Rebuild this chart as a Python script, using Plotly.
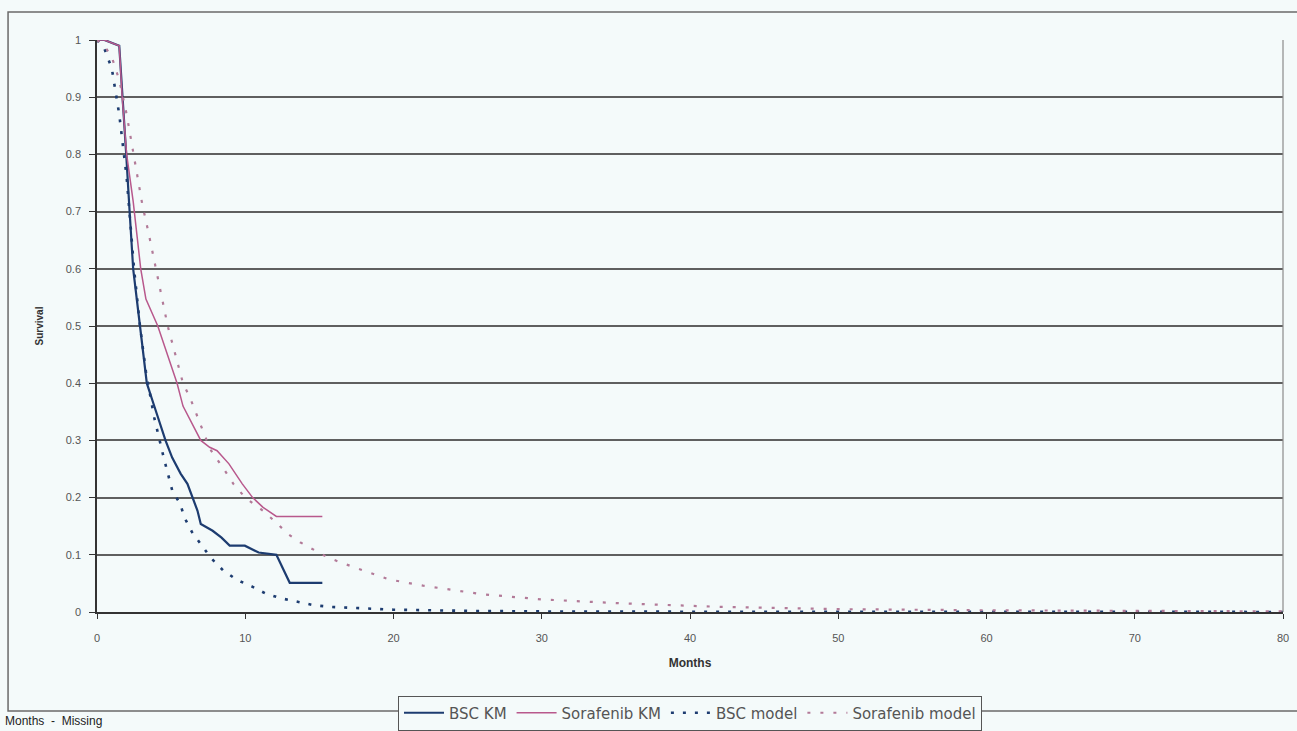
import plotly.graph_objects as go

# Kaplan-Meier survival (months, proportion surviving)
bsc_km_months = [0, 0.5, 1.5, 1.7, 1.97, 2.2, 2.44, 2.9, 3.36, 3.8, 4.16, 4.62, 5.07, 5.64,
                 6.1, 6.44, 6.78, 7.0, 7.8, 8.4, 8.95, 9.97, 10.9, 12.1, 13.0, 15.2]
bsc_km_surv = [1.0, 1.0, 0.99, 0.9, 0.8, 0.7, 0.6, 0.5, 0.4, 0.365, 0.336, 0.3, 0.27, 0.242,
               0.224, 0.2, 0.177, 0.154, 0.142, 0.13, 0.116, 0.116, 0.104, 0.1, 0.051, 0.051]

sor_km_months = [0, 0.5, 1.5, 1.7, 2.0, 2.44, 2.95, 3.3, 4.1, 5.4, 5.8, 6.4, 7.0, 7.6, 8.1,
                 8.9, 9.8, 10.5, 11.2, 12.1, 15.2]
sor_km_surv = [1.0, 1.0, 0.99, 0.9, 0.8, 0.718, 0.6, 0.547, 0.5, 0.4, 0.36, 0.33, 0.3, 0.288,
               0.282, 0.259, 0.224, 0.2, 0.183, 0.167, 0.167]

# Fitted parametric models
bsc_model_months = [0, 0.5, 1, 1.5, 2, 2.5, 2.9, 3.3, 3.86, 4.3, 4.5, 5.1, 5.6, 5.9, 6.4, 7.05,
                    7.7, 8.5, 9.45, 10.5, 11.4, 12.4, 13.6, 14.6, 15.7, 18, 20, 25, 30, 40, 50,
                    60, 70, 80]
bsc_model_surv = [1.0, 0.985, 0.95, 0.87, 0.76, 0.6, 0.5, 0.42, 0.34, 0.29, 0.27, 0.21, 0.19,
                  0.165, 0.14, 0.117, 0.094, 0.073, 0.056, 0.044, 0.032, 0.024, 0.018, 0.012,
                  0.009, 0.006, 0.004, 0.002, 0.001, 0.0005, 0.0003, 0.0002, 0.0001, 0.0001]

sor_model_months = [0, 0.5, 1, 1.5, 2, 2.55, 3.06, 3.5, 3.97, 4.77, 5.8, 6.3, 7.4, 7.7, 8.6,
                    9.2, 10, 11.2, 12.1, 12.9, 13.7, 14.7, 15.6, 16.6, 17.6, 19.7, 22, 26, 30,
                    35.5, 42, 50, 60, 70, 80]
sor_model_surv = [1.0, 0.99, 0.97, 0.93, 0.87, 0.79, 0.712, 0.66, 0.6, 0.5, 0.4, 0.373, 0.3,
                  0.282, 0.248, 0.224, 0.2, 0.177, 0.156, 0.136, 0.122, 0.107, 0.095, 0.085,
                  0.076, 0.057, 0.046, 0.031, 0.022, 0.015, 0.009, 0.005, 0.003, 0.002, 0.001]

x_ticks = [0, 10, 20, 30, 40, 50, 60, 70, 80]
y_ticks = [0, 0.1, 0.2, 0.3, 0.4, 0.5, 0.6, 0.7, 0.8, 0.9, 1]
y_tick_text = ["0", "0.1", "0.2", "0.3", "0.4", "0.5", "0.6", "0.7", "0.8", "0.9", "1"]

NAVY = "#1d3c70"
PINK = "#b8588c"
PINK_DOT = "#b27a98"
BG = "#f4fafa"
FONT = "Liberation Sans, Arial, sans-serif"

fig = go.Figure()
fig.add_trace(go.Scatter(x=bsc_km_months, y=bsc_km_surv, mode="lines", name="BSC KM",
                         line=dict(color=NAVY, width=2.2)))
fig.add_trace(go.Scatter(x=sor_km_months, y=sor_km_surv, mode="lines", name="Sorafenib KM",
                         line=dict(color=PINK, width=1.5)))
fig.add_trace(go.Scatter(x=bsc_model_months, y=bsc_model_surv, mode="lines", name="BSC model",
                         line=dict(color=NAVY, width=2.6, dash="3px,9px")))
fig.add_trace(go.Scatter(x=sor_model_months, y=sor_model_surv, mode="lines",
                         name="Sorafenib model",
                         line=dict(color=PINK_DOT, width=2.2, dash="3px,10px")))

# outer chart frame and right plot-area border
fig.add_shape(type="rect", xref="paper", yref="paper", x0=-0.075, x1=1.05, y0=-0.173, y1=1.049,
              line=dict(color="#6a6a6a", width=1.5), layer="below")
fig.add_shape(type="line", xref="paper", yref="paper", x0=1, x1=1, y0=0, y1=1,
              line=dict(color="#8a8a8a", width=1.2))

fig.add_annotation(text="Months  -  Missing", xref="paper", yref="paper", x=-0.079, y=-0.175,
                   xanchor="left", yanchor="top", showarrow=False,
                   font=dict(family=FONT, size=12, color="#222"))

fig.update_layout(
    width=1297, height=731,
    margin=dict(l=97, r=14, t=40, b=119, autoexpand=False),
    paper_bgcolor=BG, plot_bgcolor=BG,
    font=dict(family=FONT, size=11, color="#555"),
    showlegend=True,
    legend=dict(orientation="h", x=0.5, xanchor="center", y=-0.146, yanchor="top",
                bordercolor="#555", borderwidth=1, bgcolor=BG,
                font=dict(family="DejaVu Sans, sans-serif", size=15, color="#555"),
                itemwidth=40, tracegroupgap=0),
    xaxis=dict(range=[0, 80], tickvals=x_ticks, showgrid=False, zeroline=False,
               showline=True, linecolor="#333", linewidth=1.5, automargin=False,
               ticks="outside", ticklen=5, tickcolor="#333", ticklabelstandoff=10,
               title=dict(text="<b>Months</b>", font=dict(size=12, color="#333"), standoff=16)),
    yaxis=dict(range=[0, 1], tickvals=y_ticks, ticktext=y_tick_text,
               showgrid=True, gridcolor="#5f5f5f", gridwidth=1.5, zeroline=False,
               showline=True, linecolor="#333", linewidth=1.5, automargin=False,
               ticks="outside", ticklen=6, tickcolor="#333", ticklabelstandoff=6,
               title=dict(text="<b>Survival</b>", font=dict(size=10, color="#333"), standoff=20)),
)

fig.write_html("out.html")
